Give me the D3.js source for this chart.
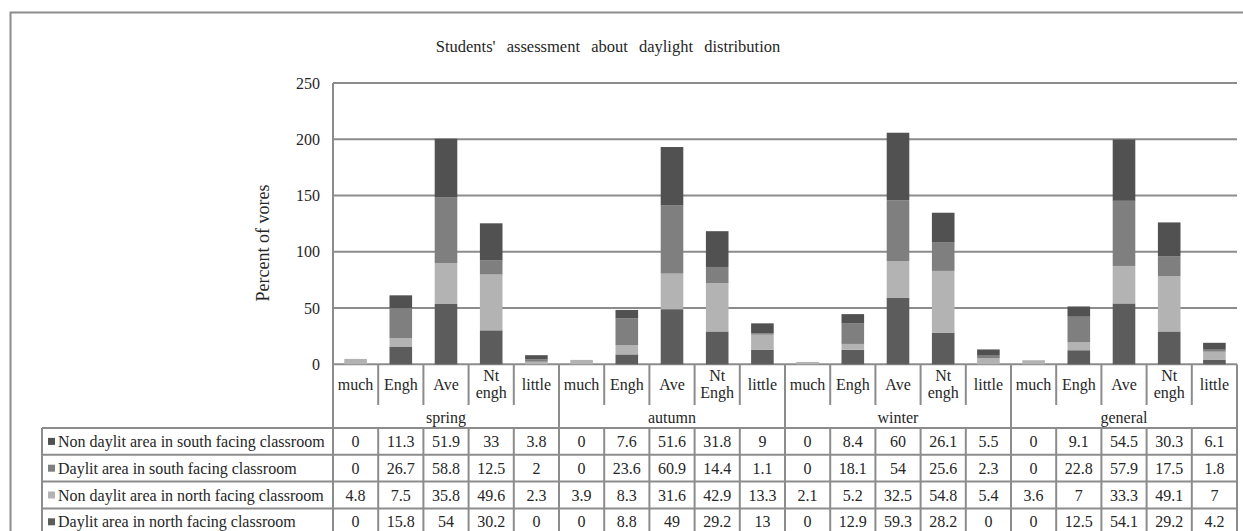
<!DOCTYPE html>
<html><head><meta charset="utf-8">
<script src="https://cdn.jsdelivr.net/npm/d3@7"></script>
<style>
body{margin:0;background:#fff}
svg{display:block}
svg text{font-family:"Liberation Serif","Times New Roman",Times,"DejaVu Serif",serif}
</style>
</head><body><svg id="c" width="1243" height="531"></svg>
<script>
// ---- data ----
const seasons = ["spring", "autumn", "winter", "general"];
const categories = ["much", "Engh", "Ave", "Nt engh", "little"];
const categoryLabels = [
  ["much"], ["Engh"], ["Ave"], ["Nt", "engh"], ["little"],
  ["much"], ["Engh"], ["Ave"], ["Nt", "Engh"], ["little"],
  ["much"], ["Engh"], ["Ave"], ["Nt", "engh"], ["little"],
  ["much"], ["Engh"], ["Ave"], ["Nt", "engh"], ["little"]
];
const seriesNames = [
  "Non daylit area in south facing classroom",
  "Daylit area in south facing classroom",
  "Non daylit area in north facing classroom",
  "Daylit area in north facing classroom"
];
const nonDaylitSouth = [0, 11.3, 51.9, 33, 3.8, 0, 7.6, 51.6, 31.8, 9, 0, 8.4, 60, 26.1, 5.5, 0, 9.1, 54.5, 30.3, 6.1];
const daylitSouth    = [0, 26.7, 58.8, 12.5, 2, 0, 23.6, 60.9, 14.4, 1.1, 0, 18.1, 54, 25.6, 2.3, 0, 22.8, 57.9, 17.5, 1.8];
const nonDaylitNorth = [4.8, 7.5, 35.8, 49.6, 2.3, 3.9, 8.3, 31.6, 42.9, 13.3, 2.1, 5.2, 32.5, 54.8, 5.4, 3.6, 7, 33.3, 49.1, 7];
const daylitNorth    = [0, 15.8, 54, 30.2, 0, 0, 8.8, 49, 29.2, 13, 0, 12.9, 59.3, 28.2, 0, 0, 12.5, 54.1, 29.2, 4.2];
const yTicks = [0, 50, 100, 150, 200, 250];
const chartTitle = "Students' assessment about daylight distribution";
const yTitle = "Percent of vores";

// ---- build ----
const seriesValues = [nonDaylitSouth, daylitSouth, nonDaylitNorth, daylitNorth];
const seriesColors = ["#515151", "#7f7f7f", "#b3b3b3", "#5c5c5c"];
const keys = [];
seasons.forEach(s => categories.forEach(c => keys.push(s + "|" + c)));
const rows = keys.map((k, i) => {
  const o = {key: k};
  seriesNames.forEach((n, j) => o[n] = seriesValues[j][i]);
  return o;
});

const FONT = '"Liberation Serif","Times New Roman",Times,"DejaVu Serif",serif';
const svg = d3.select("#c").attr("font-family", FONT);
const gridColor = "#8c8c8c";
const textColor = "#262626";

const plotLeft = 333, plotRight = 1237, plotTop = 83, zeroY = 364.3;
const x = d3.scaleBand().domain(keys).range([plotLeft, plotRight]).paddingInner(0.5).paddingOuter(0.25);
const y = d3.scaleLinear().domain([0, 250]).range([zeroY, plotTop]);
const step = x.step();
const colX = i => plotLeft + i * step;

// outer border
svg.append("rect").attr("x", 10.5).attr("y", 12.5).attr("width", 1240).attr("height", 530)
  .attr("fill", "none").attr("stroke", gridColor).attr("stroke-width", 2);

// title
svg.append("text").attr("x", 608).attr("y", 52).attr("text-anchor", "middle").attr("font-family", FONT)
  .attr("font-size", 16.5).attr("word-spacing", 7).attr("fill", textColor).text(chartTitle);

// gridlines
const grid = svg.append("g");
yTicks.forEach(t => {
  grid.append("line").attr("x1", plotLeft).attr("x2", plotRight).attr("y1", y(t)).attr("y2", y(t))
    .attr("stroke", gridColor).attr("stroke-width", 2);
});
// y tick labels via axis
const yAxis = svg.append("g").attr("transform", `translate(${plotLeft},0)`)
  .call(d3.axisLeft(y).tickValues(yTicks).tickSize(0).tickPadding(13));
yAxis.attr("font-family", FONT);
yAxis.select(".domain").remove();
yAxis.selectAll("text").attr("font-size", 16).attr("fill", textColor).attr("font-family", FONT);

// y title
svg.append("text").attr("transform", `translate(269,243) rotate(-90)`).attr("text-anchor", "middle")
  .attr("font-family", FONT).attr("font-size", 18).attr("fill", textColor).text(yTitle);

// stacked bars (bottom -> top: daylit north, non daylit north, daylit south, non daylit south)
const stackOrder = [seriesNames[3], seriesNames[2], seriesNames[1], seriesNames[0]];
const stacked = d3.stack().keys(stackOrder)(rows);
svg.append("g").selectAll("g").data(stacked).join("g")
  .attr("fill", d => seriesColors[seriesNames.indexOf(d.key)])
  .selectAll("rect").data(d => d).join("rect")
  .attr("x", d => x(d.data.key)).attr("width", x.bandwidth())
  .attr("y", d => y(d[1])).attr("height", d => Math.max(0, y(d[0]) - y(d[1])));

// ---- table ----
const tbl = svg.append("g");
const catBottom = 405, seasonBottom = 428, rowH = 26.8;
const tableLeft = 42;
const tableBottom = seasonBottom + rowH * 4;
const ln = (x1, y1, x2, y2) => tbl.append("line").attr("x1", x1).attr("y1", y1).attr("x2", x2).attr("y2", y2)
  .attr("stroke", gridColor).attr("stroke-width", 2);

ln(plotLeft, plotTop, plotLeft, tableBottom);
ln(plotRight, zeroY, plotRight, tableBottom);
for (let i = 1; i < keys.length; i++) {
  const isSeason = i % categories.length === 0;
  ln(colX(i), zeroY, colX(i), isSeason ? tableBottom : catBottom);
  if (!isSeason) ln(colX(i), seasonBottom, colX(i), tableBottom);
}
for (let r = 0; r <= 4; r++) {
  ln(tableLeft, seasonBottom + r * rowH, plotRight, seasonBottom + r * rowH);
}
ln(tableLeft, seasonBottom, tableLeft, tableBottom);

const txt = (xx, yy, s, anchor) => tbl.append("text").attr("x", xx).attr("y", yy).attr("dy", "0.35em")
  .attr("text-anchor", anchor || "middle").attr("font-family", FONT).attr("font-size", 16)
  .attr("fill", textColor).text(s);

// category labels
keys.forEach((k, i) => {
  const lines = categoryLabels[i];
  const cx = colX(i) + step / 2;
  lines.forEach((t, j) => {
    const cy = lines.length === 1 ? 384.5 : (j === 0 ? 375 : 392.5);
    txt(cx, cy, t);
  });
});
// season labels
seasons.forEach((s, i) => txt(colX(i * 5) + step * 2.5, 417, s));
// data rows
seriesNames.forEach((n, r) => {
  const cy = seasonBottom + r * rowH + rowH / 2;
  tbl.append("rect").attr("x", 48).attr("y", cy - 3.5).attr("width", 7).attr("height", 7)
    .attr("fill", seriesColors[r]);
  txt(58, cy, n, "start");
  seriesValues[r].forEach((v, i) => txt(colX(i) + step / 2, cy, v));
});
</script>
</body></html>
